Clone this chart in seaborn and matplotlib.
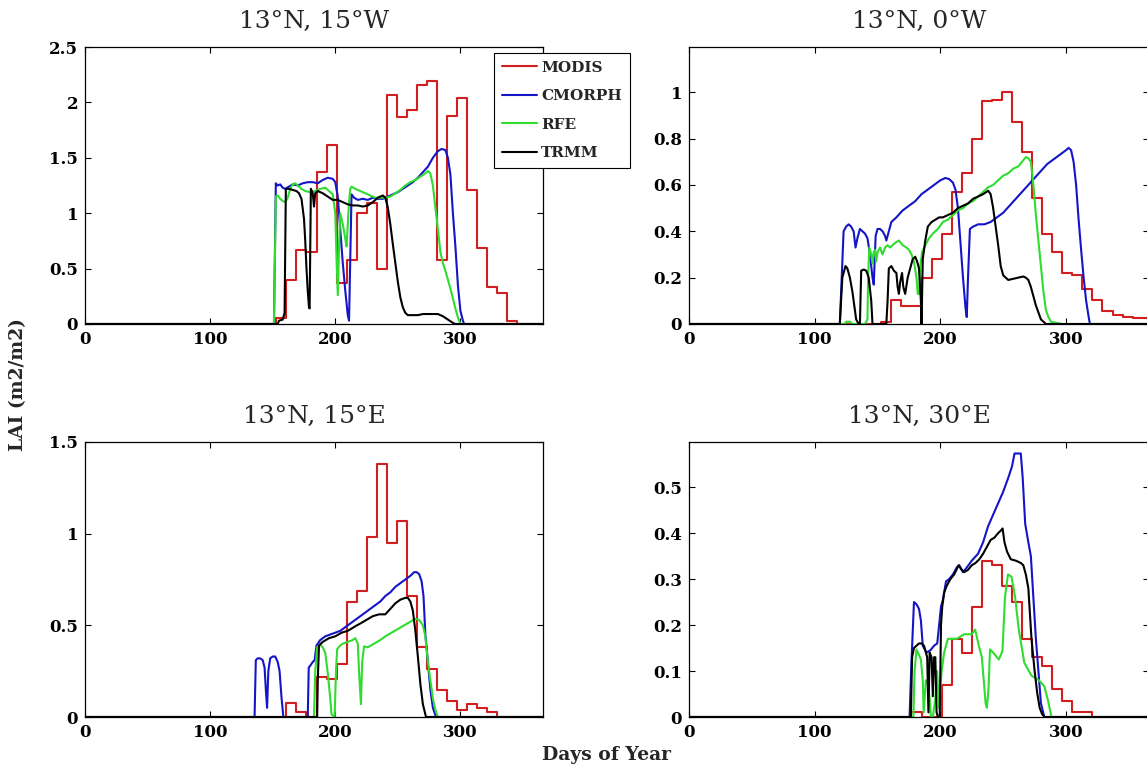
import numpy as np
import pandas as pd
import matplotlib
matplotlib.use("Agg")
import matplotlib.pyplot as plt
import seaborn as sns

# ---------------- data ----------------
titles = ["13°N, 15°W", "13°N, 0°W", "13°N, 15°E", "13°N, 30°E"]
series_names = ["MODIS", "CMORPH", "RFE", "TRMM"]
x_ticks = [0, 100, 200, 300]
x_tick_labels = ["0", "100", "200", "300"]

# MODIS 8-day composite start days (step data)
modis_days = [0, 153, 161, 169, 177, 185, 193, 201, 209, 217, 225, 233, 241, 249,
              257, 265, 273, 281, 289, 297, 305, 313, 321, 329, 337, 345, 353, 361, 366]

# ---- panel 1: 13N 15W ----
p1_modis = [0, 0.05, 0.40, 0.67, 0.65, 1.37, 1.62, 0.37, 0.58, 1.00, 1.09, 0.50, 2.07, 1.87,
            1.93, 2.16, 2.19, 0.58, 1.88, 2.04, 1.21, 0.69, 0.33, 0.28, 0.03, 0, 0, 0, 0]
p1_cmorph_day = [0, 151, 152.5, 154, 156, 158, 160, 163, 166, 170, 174, 178, 182, 186, 190, 194,
                 198, 200, 202, 204, 206, 208, 210, 211, 212, 213, 215, 218, 222, 226, 230, 234,
                 238, 242, 246, 250, 254, 258, 262, 266, 270, 274, 278, 282, 285, 288, 290, 292,
                 294, 296, 298, 300, 302, 303, 366]
p1_cmorph = [0, 0, 1.27, 1.25, 1.26, 1.23, 1.22, 1.24, 1.26, 1.25, 1.27, 1.28, 1.28, 1.27, 1.30,
             1.32, 1.31, 1.28, 1.15, 0.85, 0.55, 0.30, 0.08, 0.03, 0.60, 1.17, 1.14, 1.12, 1.13,
             1.12, 1.14, 1.13, 1.13, 1.15, 1.17, 1.19, 1.22, 1.25, 1.28, 1.32, 1.37, 1.42, 1.50,
             1.56, 1.58, 1.57, 1.50, 1.35, 1.00, 0.70, 0.35, 0.12, 0.03, 0, 0]
p1_rfe_day = [0, 151, 152.5, 154, 156, 158, 160, 162, 164, 166, 168, 170, 173, 176, 180, 184,
              188, 192, 195, 198, 200, 201, 202, 203, 204, 206, 208, 209, 210, 211, 212, 213,
              216, 220, 224, 228, 232, 236, 240, 244, 248, 252, 256, 260, 264, 268, 272, 274,
              276, 278, 280, 282, 284, 286, 288, 290, 292, 294, 296, 298, 300, 366]
p1_rfe = [0, 0, 1.15, 1.16, 1.13, 1.11, 1.10, 1.14, 1.22, 1.26, 1.27, 1.25, 1.22, 1.20, 1.19,
          1.20, 1.22, 1.23, 1.20, 1.17, 1.00, 0.60, 0.26, 0.70, 1.00, 0.90, 0.77, 0.70, 0.90,
          1.10, 1.22, 1.24, 1.22, 1.20, 1.18, 1.16, 1.14, 1.14, 1.14, 1.15, 1.18, 1.21, 1.25,
          1.28, 1.30, 1.33, 1.36, 1.38, 1.36, 1.25, 1.05, 0.86, 0.65, 0.55, 0.48, 0.40, 0.32,
          0.23, 0.14, 0.06, 0, 0]
p1_trmm_day = [0, 154, 155, 158, 159.5, 160.5, 163, 166, 169, 171, 173, 175, 176, 177, 178,
               179, 179.5, 180.5, 182, 183, 184, 186, 190, 194, 198, 202, 206, 210, 214, 218,
               222, 226, 230, 234, 238, 240, 242, 244, 246, 248, 250, 252, 254, 256, 258, 262,
               266, 270, 276, 282, 286, 290, 294, 296, 366]
p1_trmm = [0, 0, 0.03, 0.04, 0.10, 1.22, 1.22, 1.21, 1.20, 1.18, 1.13, 0.95, 0.75, 0.50, 0.30,
           0.15, 0.14, 1.22, 1.18, 1.06, 1.18, 1.20, 1.18, 1.15, 1.12, 1.12, 1.10, 1.08, 1.07,
           1.07, 1.06, 1.07, 1.10, 1.14, 1.16, 1.14, 1.05, 0.90, 0.72, 0.55, 0.38, 0.24, 0.15,
           0.10, 0.08, 0.08, 0.08, 0.09, 0.09, 0.09, 0.07, 0.04, 0.01, 0, 0]

# ---- panel 2: 13N 0W ----
p2_modis = [0, 0.01, 0.105, 0.077, 0.077, 0.20, 0.28, 0.39, 0.57, 0.65, 0.80, 0.96, 0.965,
            1.00, 0.87, 0.74, 0.545, 0.39, 0.31, 0.22, 0.21, 0.15, 0.105, 0.055, 0.04, 0.03,
            0.025, 0.025, 0.025]
p2_cmorph_day = [0, 120, 121.5, 123, 125, 127, 129, 131, 132.5, 134, 136, 138, 140, 142, 144,
                 146, 147, 148.5, 150, 152, 154, 156, 157, 159, 161, 165, 170, 175, 180, 185,
                 190, 195, 200, 204, 207, 210, 212, 214, 216, 218, 220, 221, 222, 223.5, 226,
                 230, 235, 240, 245, 250, 255, 260, 265, 270, 275, 280, 285, 290, 295, 300, 302,
                 304, 306, 308, 310, 312, 314, 316, 318, 319, 366]
p2_cmorph = [0, 0, 0.20, 0.40, 0.42, 0.43, 0.42, 0.40, 0.33, 0.37, 0.41, 0.40, 0.39, 0.37, 0.30,
             0.20, 0.17, 0.38, 0.41, 0.41, 0.40, 0.38, 0.36, 0.40, 0.44, 0.46, 0.49, 0.51, 0.53,
             0.56, 0.58, 0.60, 0.62, 0.63, 0.625, 0.61, 0.58, 0.50, 0.35, 0.20, 0.07, 0.03, 0.20,
             0.41, 0.42, 0.43, 0.43, 0.44, 0.46, 0.48, 0.51, 0.54, 0.57, 0.60, 0.63, 0.66, 0.69,
             0.71, 0.73, 0.75, 0.76, 0.75, 0.70, 0.60, 0.45, 0.32, 0.20, 0.10, 0.03, 0, 0]
p2_rfe_day = [0, 124, 125, 128, 130, 133, 140, 142, 142.5, 143.5, 145, 146, 147, 148, 149, 150,
              152, 154, 156, 158, 160, 162, 164, 167, 170, 173, 175, 177, 179, 181, 182, 183,
              184, 185.5, 188, 191, 194, 198, 202, 206, 210, 214, 218, 222, 226, 230, 234, 238,
              242, 246, 250, 254, 258, 262, 265, 268, 270, 272, 274, 276, 278, 280, 282, 284,
              286, 288, 292, 297, 366]
p2_rfe = [0, 0, 0.01, 0.01, 0.0, 0.0, 0.0, 0.02, 0.20, 0.33, 0.30, 0.26, 0.31, 0.32, 0.27, 0.31,
          0.33, 0.30, 0.33, 0.34, 0.33, 0.34, 0.35, 0.36, 0.34, 0.33, 0.32, 0.30, 0.27, 0.20,
          0.13, 0.13, 0.25, 0.31, 0.34, 0.37, 0.39, 0.41, 0.44, 0.45, 0.47, 0.49, 0.50, 0.52,
          0.53, 0.55, 0.57, 0.59, 0.60, 0.62, 0.64, 0.65, 0.67, 0.68, 0.70, 0.72, 0.715, 0.70,
          0.60, 0.47, 0.36, 0.25, 0.14, 0.06, 0.03, 0.01, 0.005, 0, 0]
p2_trmm_day = [0, 120, 121, 122, 124.5, 126, 128, 130, 132, 133, 135, 136, 137, 139, 141, 143,
               145, 146, 157, 158, 159, 161, 163, 165, 166, 167, 168, 169.5, 170.5, 172, 174,
               176, 178, 180, 181.5, 183, 184.5, 185, 186, 188, 190, 193, 196, 199, 202, 206,
               210, 214, 218, 222, 226, 230, 234, 238, 240, 242, 244, 246, 248, 250, 254, 258,
               262, 266, 268, 270, 272, 274, 276, 278, 280, 282, 284, 366]
p2_trmm = [0, 0, 0.10, 0.20, 0.25, 0.24, 0.20, 0.14, 0.06, 0.02, 0.0, 0.0, 0.23, 0.235, 0.23,
           0.20, 0.10, 0.0, 0.0, 0.10, 0.24, 0.25, 0.23, 0.22, 0.16, 0.13, 0.18, 0.22, 0.16,
           0.13, 0.20, 0.24, 0.28, 0.29, 0.27, 0.24, 0.10, 0.0, 0.28, 0.36, 0.42, 0.44, 0.45,
           0.46, 0.46, 0.47, 0.48, 0.50, 0.51, 0.52, 0.54, 0.55, 0.56, 0.575, 0.56, 0.50, 0.42,
           0.34, 0.25, 0.21, 0.19, 0.195, 0.20, 0.205, 0.20, 0.19, 0.16, 0.12, 0.08, 0.05, 0.02,
           0.01, 0.0, 0]

# ---- panel 3: 13N 15E ----
p3_modis = [0, 0, 0.075, 0.025, 0.0, 0.22, 0.21, 0.29, 0.63, 0.685, 0.98, 1.38, 0.95, 1.07,
            0.66, 0.38, 0.26, 0.15, 0.087, 0.04, 0.07, 0.05, 0.025, 0, 0, 0, 0, 0, 0]
p3_cmorph_day = [0, 135.5, 136.5, 138, 140, 142, 143.5, 144.5, 145.5, 146.5, 148, 150, 152, 154,
                 155.5, 157, 158.5, 178, 178.8, 180, 182, 183.5, 185, 188, 192, 196, 200, 204,
                 208, 212, 216, 220, 224, 228, 232, 236, 240, 244, 248, 252, 256, 260, 263, 265,
                 267, 269, 270.5, 272, 274, 276, 278, 280.5, 366]
p3_cmorph = [0, 0, 0.31, 0.32, 0.32, 0.31, 0.27, 0.15, 0.05, 0.25, 0.32, 0.33, 0.33, 0.30, 0.25,
             0.11, 0.0, 0.0, 0.27, 0.28, 0.30, 0.31, 0.39, 0.42, 0.44, 0.45, 0.46, 0.47, 0.49,
             0.51, 0.53, 0.55, 0.57, 0.59, 0.61, 0.63, 0.66, 0.68, 0.71, 0.73, 0.75, 0.77, 0.79,
             0.79, 0.78, 0.74, 0.66, 0.45, 0.30, 0.15, 0.05, 0, 0]
p3_rfe_day = [0, 183, 184, 185.5, 188, 190, 192, 194, 196, 197, 199.5, 200.5, 201.5, 204, 206,
              210, 214, 216, 218, 219, 220.5, 221.5, 223, 226, 231, 236, 240, 245, 250, 255,
              260, 264, 267, 270, 272, 274, 276, 278, 280, 282, 366]
p3_rfe = [0, 0, 0.25, 0.38, 0.395, 0.38, 0.35, 0.24, 0.10, 0.015, 0.0, 0.24, 0.37, 0.39, 0.40,
          0.41, 0.42, 0.43, 0.40, 0.25, 0.07, 0.30, 0.385, 0.38, 0.40, 0.42, 0.44, 0.46, 0.48,
          0.50, 0.52, 0.535, 0.53, 0.50, 0.44, 0.30, 0.20, 0.10, 0.04, 0, 0]
p3_trmm_day = [0, 185.5, 186, 187, 190, 195, 200, 205, 210, 216, 220, 225, 230, 235, 240, 244,
               248, 252, 256, 258, 260, 262, 264, 266, 268, 270, 272.5, 366]
p3_trmm = [0, 0, 0.20, 0.39, 0.41, 0.43, 0.44, 0.46, 0.47, 0.495, 0.51, 0.53, 0.55, 0.56, 0.56,
           0.59, 0.62, 0.64, 0.65, 0.65, 0.63, 0.58, 0.47, 0.33, 0.18, 0.07, 0, 0]

# ---- panel 4: 13N 30E ----
p4_modis = [0, 0, 0, 0, 0.01, 0.0, 0.0, 0.07, 0.17, 0.14, 0.24, 0.34, 0.33, 0.285, 0.25, 0.17,
            0.13, 0.11, 0.06, 0.035, 0.01, 0.01, 0, 0, 0, 0, 0, 0, 0]
p4_cmorph_day = [0, 175.5, 177, 179, 181, 183, 184.5, 186, 189, 192, 195, 197.5, 199, 200.5,
                 202, 204.5, 207, 210, 213, 215, 218, 221, 225, 230, 234, 238, 242, 246, 250,
                 254, 257, 259, 261, 264, 265.5, 267.5, 270, 272, 274, 276, 278, 280, 282.7, 366]
p4_cmorph = [0, 0, 0.12, 0.25, 0.245, 0.235, 0.21, 0.155, 0.14, 0.145, 0.155, 0.16, 0.20, 0.24,
             0.255, 0.295, 0.30, 0.31, 0.325, 0.33, 0.315, 0.325, 0.34, 0.355, 0.38, 0.415,
             0.44, 0.465, 0.49, 0.52, 0.545, 0.573, 0.573, 0.573, 0.52, 0.42, 0.38, 0.35, 0.26,
             0.17, 0.10, 0.03, 0, 0]
p4_rfe_day = [0, 178.5, 179.5, 181, 183, 184.5, 186, 186.7, 188.5, 190, 191.5, 192.5, 194, 196,
              197.4, 199, 201, 203, 206, 210, 213, 216, 219, 222, 225, 227.7, 230.6, 233, 234.5,
              236, 237, 238.3, 239.5, 242, 246.5, 249.4, 251.4, 253.8, 256.6, 259.5, 262.4,
              266.8, 272.5, 278.3, 282.7, 285.5, 288.4, 366]
p4_rfe = [0, 0, 0.10, 0.147, 0.135, 0.125, 0.08, 0.01, 0.08, 0.07, 0.04, 0.0, 0.0, 0.04, 0.10,
          0.02, 0.10, 0.14, 0.17, 0.17, 0.17, 0.175, 0.18, 0.18, 0.18, 0.19, 0.155, 0.13, 0.08,
          0.03, 0.02, 0.06, 0.147, 0.14, 0.125, 0.143, 0.26, 0.31, 0.305, 0.26, 0.19, 0.118,
          0.09, 0.08, 0.067, 0.038, 0, 0]
p4_trmm_day = [0, 176.5, 177.5, 179, 181, 183, 185, 187, 188.5, 189.5, 190.5, 191.5, 193, 194,
               195, 196, 197, 198, 199.5, 200.5, 201.5, 203, 205, 208, 211, 214.5, 217, 219,
               222, 225, 228, 231, 234, 237, 240, 243, 246, 248, 249.5, 251, 253, 256, 260,
               264, 266, 268, 270, 272.5, 275, 277, 279, 281, 283, 366]
p4_trmm = [0, 0, 0.13, 0.15, 0.155, 0.16, 0.16, 0.155, 0.14, 0.13, 0.01, 0.14, 0.13, 0.045,
           0.13, 0.13, 0.01, 0.0, 0.0, 0.20, 0.24, 0.27, 0.285, 0.30, 0.31, 0.33, 0.32, 0.315,
           0.32, 0.33, 0.335, 0.343, 0.355, 0.37, 0.385, 0.39, 0.40, 0.405, 0.41, 0.38, 0.36,
           0.343, 0.34, 0.335, 0.33, 0.31, 0.28, 0.17, 0.10, 0.053, 0.02, 0.006, 0, 0]

y_ticks = [[0, 0.5, 1, 1.5, 2, 2.5],
           [0, 0.2, 0.4, 0.6, 0.8, 1],
           [0, 0.5, 1, 1.5],
           [0, 0.1, 0.2, 0.3, 0.4, 0.5]]
y_tick_labels = [["0", "0.5", "1", "1.5", "2", "2.5"],
                 ["0", "0.2", "0.4", "0.6", "0.8", "1"],
                 ["0", "0.5", "1", "1.5"],
                 ["0", "0.1", "0.2", "0.3", "0.4", "0.5"]]
y_limits = [(0, 2.5), (0, 1.195), (0, 1.5), (0, 0.598)]

panels = [
    dict(modis=p1_modis, cmorph=(p1_cmorph_day, p1_cmorph), rfe=(p1_rfe_day, p1_rfe), trmm=(p1_trmm_day, p1_trmm)),
    dict(modis=p2_modis, cmorph=(p2_cmorph_day, p2_cmorph), rfe=(p2_rfe_day, p2_rfe), trmm=(p2_trmm_day, p2_trmm)),
    dict(modis=p3_modis, cmorph=(p3_cmorph_day, p3_cmorph), rfe=(p3_rfe_day, p3_rfe), trmm=(p3_trmm_day, p3_trmm)),
    dict(modis=p4_modis, cmorph=(p4_cmorph_day, p4_cmorph), rfe=(p4_rfe_day, p4_rfe), trmm=(p4_trmm_day, p4_trmm)),
]

colors = {"MODIS": "#d21e1e", "CMORPH": "#1414c8", "RFE": "#2fdc2f", "TRMM": "#000000"}

# ---------------- style ----------------
sns.set_theme(style="white")
plt.rcParams["font.family"] = ["DejaVu Serif", "DejaVu Sans"]
plt.rcParams["xtick.direction"] = "in"
plt.rcParams["ytick.direction"] = "in"
plt.rcParams["axes.edgecolor"] = "black"
plt.rcParams["axes.linewidth"] = 0.9

W, H = 1147, 767
fig = plt.figure(figsize=(W / 100, H / 100), dpi=100)

def frac(left, top, right, bottom):
    return [left / W, 1 - bottom / H, (right - left) / W, (bottom - top) / H]

rects = [frac(85, 47, 543, 324), frac(689, 47, 1149, 324),
         frac(85, 442, 543, 717), frac(689, 442, 1149, 717)]

lw = 1.5
for i, (p, rect) in enumerate(zip(panels, rects)):
    ax = fig.add_axes(rect)
    sns.lineplot(x=modis_days, y=p["modis"], ax=ax, color=colors["MODIS"], lw=lw,
                 drawstyle="steps-post", estimator=None, sort=False, label="MODIS")
    for key, name in [("cmorph", "CMORPH"), ("rfe", "RFE"), ("trmm", "TRMM")]:
        d, v = p[key]
        sns.lineplot(x=d, y=v, ax=ax, color=colors[name], lw=lw,
                     estimator=None, sort=False, label=name)
    ax.set_xlim(0, 366)
    ax.set_ylim(*y_limits[i])
    ax.set_xticks(x_ticks)
    ax.set_xticklabels(x_tick_labels)
    ax.set_yticks(y_ticks[i])
    ax.set_yticklabels(y_tick_labels[i])
    ax.tick_params(axis="both", which="both", direction="in", length=4, width=0.8,
                   top=True, right=True, bottom=True, left=True, labelsize=12, pad=5,
                   colors="black")
    for lab in ax.get_xticklabels() + ax.get_yticklabels():
        lab.set_fontweight("bold")
    for s in ax.spines.values():
        s.set_visible(True)
        s.set_color("black")
    ax.set_xlabel("")
    ax.set_ylabel("")
    ax.set_title(titles[i], fontsize=18, pad=14)
    leg = ax.get_legend()
    if leg is not None:
        leg.remove()
    if i == 0:
        handles, labels = ax.get_legend_handles_labels()
        lg = ax.legend(handles, labels, loc="upper left",
                       bbox_to_anchor=((494 - 85) / 458, (324 - 53) / 277),
                       frameon=True, fancybox=False, framealpha=1, edgecolor="black",
                       borderpad=0.5, labelspacing=0.95, handlelength=2.3,
                       handletextpad=0.3, borderaxespad=0,
                       prop={"weight": "bold", "size": 11})
        lg.get_frame().set_linewidth(0.8)
        lg.set_zorder(10)

fig.text(607 / W, 1 - 755 / H, "Days of Year", ha="center", va="center",
         fontsize=13.5, fontweight="bold")
fig.text(18 / W, 1 - 385 / H, "LAI (m2/m2)", ha="center", va="center", rotation=90,
         fontsize=13.5, fontweight="bold")

fig.savefig("out.png", dpi=100)
